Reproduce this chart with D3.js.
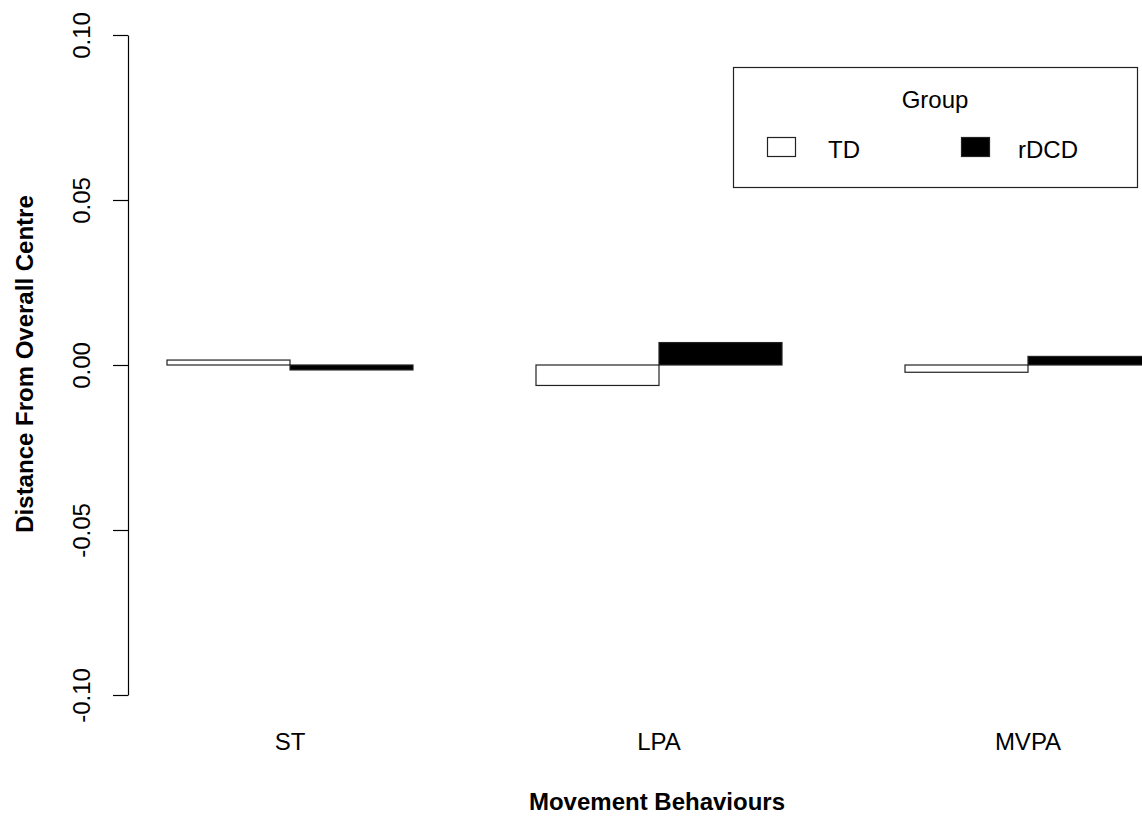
<!DOCTYPE html>
<html>
<head>
<meta charset="utf-8">
<script src="https://cdn.jsdelivr.net/npm/d3@7"></script>
<style>
  body { margin: 0; background: #fff; }
  svg { font-family: "Liberation Sans", Arial, sans-serif; }
</style>
</head>
<body>
<div class="chart-container"></div>
<script>
// Categories, groups, values
const categories = ["ST", "LPA", "MVPA"];
const groups = ["TD", "rDCD"];
const groupFill = ["#ffffff", "#000000"];
const tdValues = [0.0015, -0.0062, -0.0022];
const rdcdValues = [-0.0015, 0.0068, 0.0026];
const yTicks = [-0.10, -0.05, 0.00, 0.05, 0.10];

const W = 1142, H = 816;
const fs = 24;

const svg = d3.select(".chart-container")
    .append("svg")
        .attr("width", W)
        .attr("height", H);

// bar units like R barplot(beside=TRUE): 1 space + 2 bars per group
const xScale = d3.scaleLinear().domain([1, 7]).range([167, 905]);
const yScale = d3.scaleLinear().domain([-0.10, 0.10]).range([695, 35]);

const rows = [];
categories.forEach((c, i) => {
    rows.push({cat: c, g: 0, v: tdValues[i], u: 1 + 3 * i});
    rows.push({cat: c, g: 1, v: rdcdValues[i], u: 2 + 3 * i});
});

svg.selectAll("rect.bar")
    .data(rows)
    .join("rect")
        .attr("class", "bar")
        .attr("x", d => xScale(d.u))
        .attr("width", d => xScale(d.u + 1) - xScale(d.u))
        .attr("y", d => yScale(Math.max(0, d.v)))
        .attr("height", d => Math.abs(yScale(d.v) - yScale(0)))
        .attr("fill", d => groupFill[d.g])
        .attr("stroke", "#222")
        .attr("stroke-width", 1.2);

// y axis (R style: plain hyphen for minus, labels rotated)
const fmt = d => d3.format(".2f")(d).replace("\u2212", "-");
const gYAxis = svg.append("g")
    .attr("transform", "translate(128,0)")
    .call(d3.axisLeft(yScale).tickValues(yTicks).tickSize(15).tickSizeOuter(0)
        .tickFormat(fmt));
gYAxis.select(".domain").attr("stroke", "#000").attr("stroke-width", 1.2);
gYAxis.selectAll(".tick line").attr("stroke", "#000").attr("stroke-width", 1.2);
gYAxis.selectAll(".tick text")
    .attr("font-size", fs)
    .attr("fill", "#000")
    .attr("text-anchor", "middle")
    .attr("transform", "translate(-38,0) rotate(-90)")
    .attr("x", 0)
    .attr("dy", 0);

// category labels
svg.selectAll("text.cat")
    .data(categories)
    .join("text")
        .attr("class", "cat")
        .attr("x", (d, i) => xScale(2 + 3 * i))
        .attr("y", 750)
        .attr("text-anchor", "middle")
        .attr("font-size", fs)
        .text(d => d);

// axis titles
svg.append("text")
    .attr("x", 657)
    .attr("y", 810)
    .attr("text-anchor", "middle")
    .attr("font-size", fs)
    .attr("font-weight", "bold")
    .text("Movement Behaviours");

svg.append("text")
    .attr("transform", "translate(33,364) rotate(-90)")
    .attr("text-anchor", "middle")
    .attr("font-size", fs)
    .attr("font-weight", "bold")
    .text("Distance From Overall Centre");

// legend
const legend = svg.append("g");
legend.append("rect")
    .attr("x", 733.5).attr("y", 67.5)
    .attr("width", 404).attr("height", 120)
    .attr("fill", "#fff").attr("stroke", "#222").attr("stroke-width", 1.2);
legend.append("text")
    .attr("x", 935).attr("y", 108)
    .attr("text-anchor", "middle")
    .attr("font-size", fs)
    .text("Group");
const keyX = [767, 961];
const textX = [828, 1018];
groups.forEach((g, i) => {
    legend.append("rect")
        .attr("x", keyX[i] + 0.5).attr("y", 137.5)
        .attr("width", 28).attr("height", 19)
        .attr("fill", groupFill[i]).attr("stroke", "#222").attr("stroke-width", 1.2);
    legend.append("text")
        .attr("x", textX[i]).attr("y", 158)
        .attr("font-size", fs)
        .text(g);
});
</script>
</body>
</html>
